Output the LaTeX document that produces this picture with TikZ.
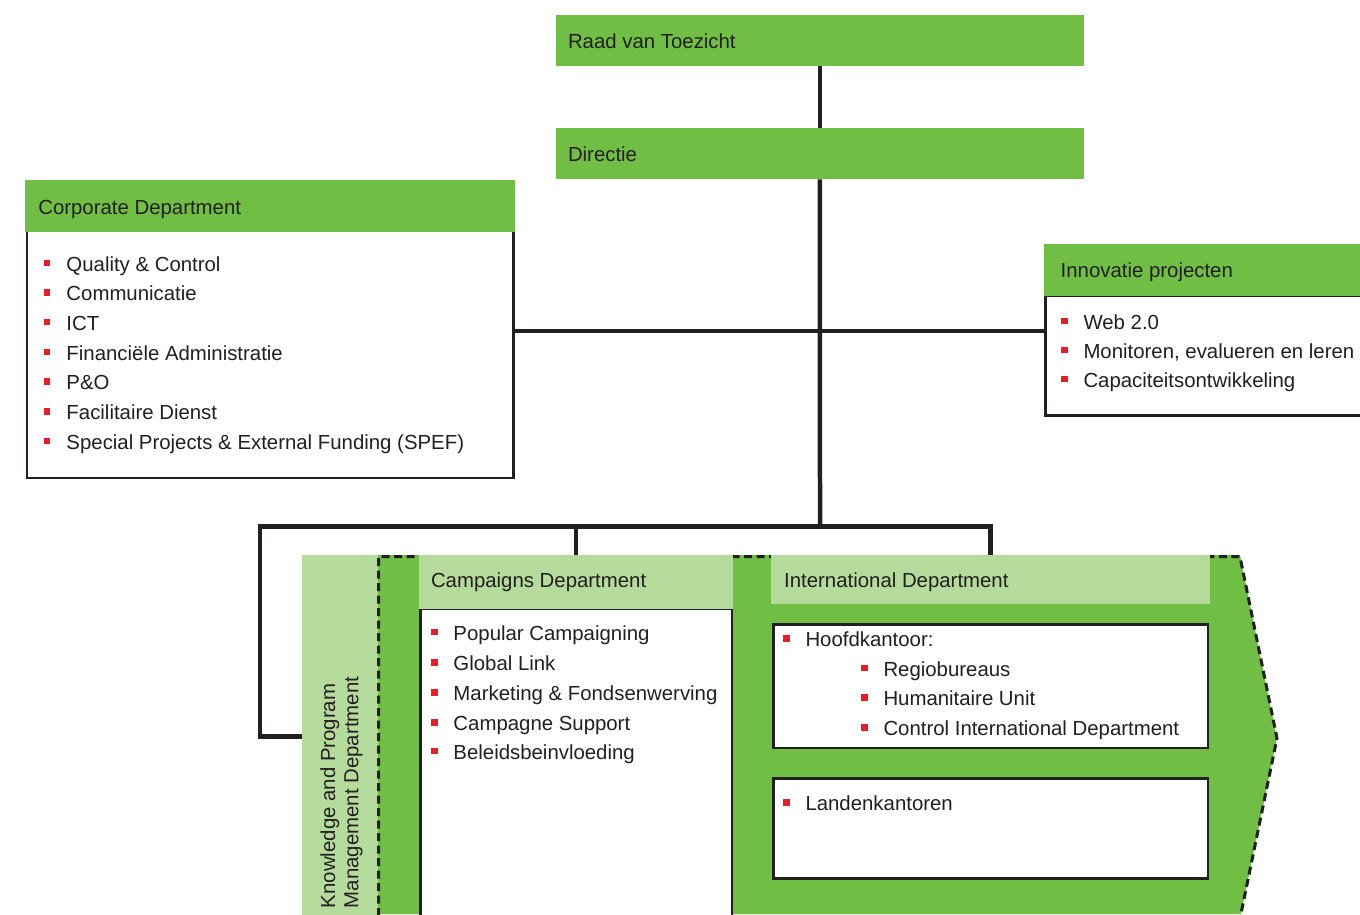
\documentclass[tikz,border=0pt]{standalone}
\usepackage{fontspec}
\setmainfont{Liberation Sans}

\definecolor{darkgreen}{RGB}{112,190,68}
\definecolor{lightgreen}{RGB}{181,219,156}
\definecolor{bulletred}{RGB}{237,28,36}
\definecolor{textgray}{RGB}{35,31,32}
\newcommand{\bul}{{\color{bulletred}\rule[0.1cm]{0.13cm}{0.13cm}}\hspace{0.32cm}}

\begin{document}
\begin{tikzpicture}[x=0.02cm,y=-0.02cm]
\tikzstyle{every node}+=[inner sep=0pt, outer sep=0pt, font=\fontsize{11.6}{14}\selectfont, text=textgray]
\tikzstyle{head}=[fill=darkgreen, anchor=north west]
\tikzstyle{subhead}=[fill=lightgreen, anchor=north west]
\tikzstyle{body}=[draw=textgray, line width=0.055cm, fill=white, anchor=north west]
\tikzstyle{headtext}=[anchor=base west]
\tikzstyle{item}=[anchor=base west, execute at begin node=\bul]
\tikzstyle{conn}=[line width=0.09cm, draw=textgray]
\tikzstyle{dashline}=[line width=0.06cm, draw=textgray, dash pattern=on 0.16cm off 0.09cm]
\useasboundingbox (0,0) rectangle (1360,914);
\clip (0,0) rectangle (1360,914);
% top of the chart
\node[head, minimum width=10.56cm, minimum height=1.02cm] (raad) at (556,15) {};
\node[headtext] (raadtext) at (568,48.5) {Raad van Toezicht};
\node[head, minimum width=10.56cm, minimum height=1.03cm] (directie) at (556,128) {};
\node[headtext] (directietext) at (568,161.5) {Directie};
% corporate department
\node[body, minimum width=9.73cm, minimum height=4.94cm] (corpbody) at (27,231) {};
\node[head, minimum width=9.81cm, minimum height=1.034cm] (corphead) at (25,180) {};
\node[headtext] (corptext) at (38.3,214) {Corporate Department};
\node[item] (corp1) at (44,271) {Quality \& Control};
\node[item] (corp2) at (44,300.7) {Communicatie};
\node[item] (corp3) at (44,330.4) {ICT};
\node[item] (corp4) at (44,360.1) {Financiële Administratie};
\node[item] (corp5) at (44,389.8) {P\&O};
\node[item] (corp6) at (44,419.5) {Facilitaire Dienst};
\node[item] (corp7) at (44,449.2) {Special Projects \& External Funding (SPEF)};
% innovatie projecten
\node[body, minimum width=7.2cm, minimum height=2.39cm] (innovbody) at (1045.3,295.7) {};
\node[head, minimum width=7.2cm, minimum height=1.034cm] (innovhead) at (1044,244) {};
\node[headtext] (innovtext) at (1060.7,277.7) {Innovatie projecten};
\node[item] (innov1) at (1061,329.3) {Web 2.0};
\node[item] (innov2) at (1061,358.3) {Monitoren, evalueren en leren};
\node[item] (innov3) at (1061,387.3) {Capaciteitsontwikkeling};
% lower block
\fill[darkgreen] (378,555) -- (1240,555) -- (1277,738.3) -- (1241,914) -- (378,914) -- cycle;
\node[subhead, minimum width=1.53cm, minimum height=7.3cm] (kpmd) at (301.7,555) {};
\draw[dashline] (378.5,916) -- (378.5,556.7) -- (1240,556.7) -- (1277,738.3) -- (1240.5,916);
\node[headtext, rotate=90] (kpmdtext1) at (335,908) {Knowledge and Program};
\node[headtext, rotate=90] (kpmdtext2) at (358.3,908) {Management Department};
% campaigns department
\node[body, line width=0.045cm, minimum width=6.23cm, minimum height=6.5cm] (campbody) at (420.5,609) {};
\node[subhead, minimum width=6.286cm, minimum height=1.08cm] (camphead) at (419,555) {};
\node[headtext] (camptext) at (431,587.3) {Campaigns Department};
\node[item] (camp1) at (431,640) {Popular Campaigning};
\node[item] (camp2) at (431,670.7) {Global Link};
\node[item] (camp3) at (431,700.7) {Marketing \& Fondsenwerving};
\node[item] (camp4) at (431,730.7) {Campagne Support};
\node[item] (camp5) at (431,759.3) {Beleidsbeinvloeding};
% international department
\node[subhead, minimum width=8.78cm, minimum height=0.986cm] (inthead) at (771,555) {};
\node[headtext] (inttext) at (784.2,587.7) {International Department};
\node[body, minimum width=8.69cm, minimum height=2.466cm] (hoofdbox) at (773.5,624.7) {};
\node[item] (hoofd) at (783,646.7) {Hoofdkantoor:};
\node[item] (hoofd1) at (861,676) {Regiobureaus};
\node[item] (hoofd2) at (861,705.7) {Humanitaire Unit};
\node[item] (hoofd3) at (861,735.7) {Control International Department};
\node[body, minimum width=8.69cm, minimum height=1.998cm] (landenbox) at (773.5,778.8) {};
\node[item] (landen) at (783,810.7) {Landenkantoren};
% connectors
\coordinate (hub) at (820,331);
\coordinate (split) at (820,526.7);
\coordinate (bend) at (260,526.7);
\coordinate (kpin) at (301.7,736.7);
\draw[conn] (raad.south) -- (directie.north);
\draw[conn] (directie.south) -- (split);
\draw[conn] (corpbody.east |- hub) -- (innovbody.west |- hub);
\draw[conn] (kpin) -| (bend) -- (inthead.north |- split) -- (inthead.north);
\draw[conn] (camphead.north |- split) -- (camphead.north);
\end{tikzpicture}
\end{document}
